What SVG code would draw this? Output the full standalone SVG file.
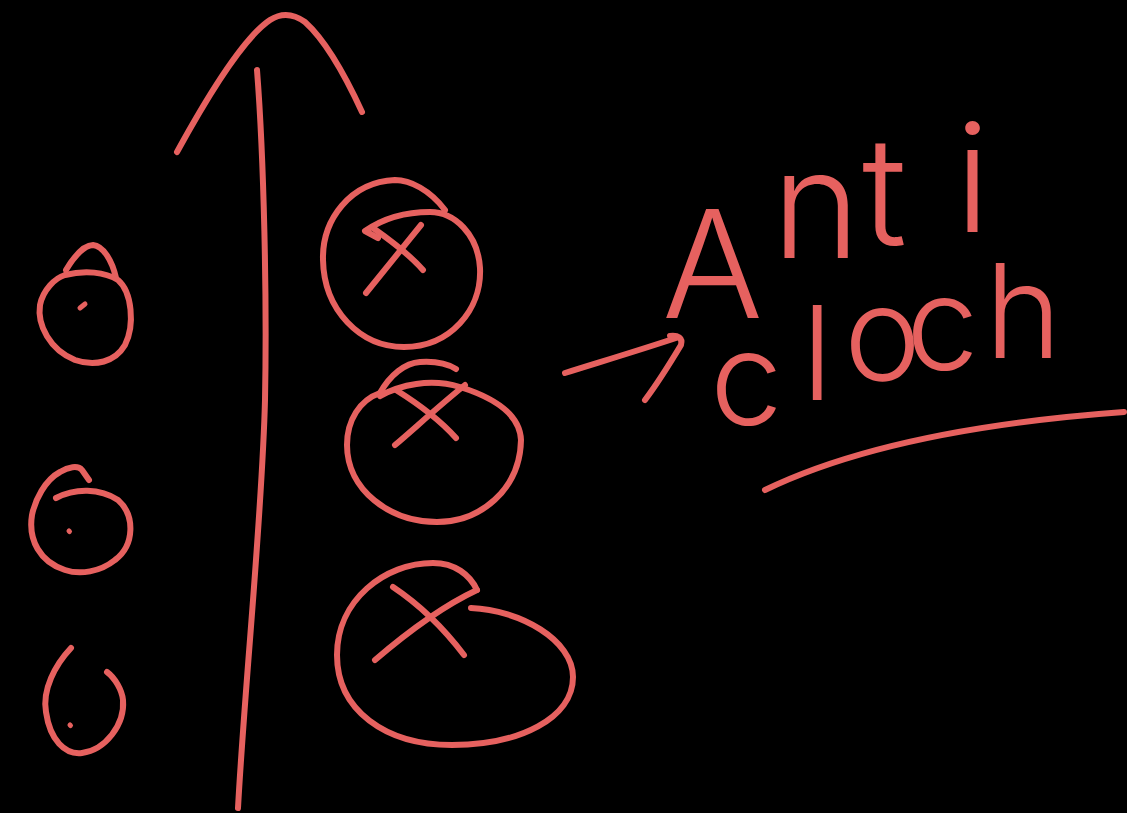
<svg xmlns="http://www.w3.org/2000/svg" width="1127" height="813" viewBox="0 0 1127 813">
<style>
.s{fill:none;stroke:#E6615F;stroke-width:6;stroke-linecap:round;stroke-linejoin:round}
.d{fill:none;stroke:#E6615F;stroke-width:5;stroke-linecap:round}
.hw{fill:#E6615F;font-family:Inter,"Liberation Sans",sans-serif;font-weight:300}
</style>
<rect x="0" y="0" width="1127" height="813" fill="#000"/>
<g id="big-arrow">
<path class="s" d="M257,70 C264,160 267,300 265,400 C262,520 245,680 238,808"/>
<path class="s" d="M177,152 C200,110 240,40 270,20 Q287,9 305,22 C325,40 345,75 362,112"/>
</g>
<g id="dot-1">
<path class="s" d="M66,270 C75,255 85,245 93,245 C103,246 112,260 116,278"/>
<path class="s" d="M65,275 C85,270 105,272 118,280 C132,292 135,325 125,345 C115,362 95,367 75,360 C50,350 37,325 40,305 C43,290 55,278 65,275"/>
<path class="d" d="M80,308 L85,304"/>
</g>
<g id="dot-2">
<path class="s" d="M56,498 C75,488 100,488 118,500 C135,515 135,545 115,560 C100,572 80,575 65,570 C40,562 28,540 32,515 C35,500 45,480 60,472 C68,467 78,465 82,470 L89,480"/>
<path class="d" d="M69,531 L69.5,531.5"/>
</g>
<g id="dot-3">
<path class="s" d="M71,648 C55,665 42,690 46,712 C50,740 65,755 82,753 C105,750 125,725 123,700 C122,690 115,678 107,672"/>
<path class="d" d="M70,725 L70.5,725.5"/>
</g>
<g id="cross-1">
<path class="s" d="M445,210 C430,190 410,180 395,180 C350,182 322,220 323,260 C324,310 360,347 404,347 C450,347 482,310 480,268 C478,235 455,212 430,212 C400,212 378,222 365,231 L378,238"/>
<path class="s" d="M366,293 L421,225"/>
<path class="s" d="M373,228 C390,240 410,255 423,270"/>
</g>
<g id="cross-2">
<path class="s" d="M380,393 C390,375 405,363 420,362 C435,361 448,364 456,369"/>
<path class="s" d="M380,396 C400,385 430,378 460,387 C495,398 520,415 521,440 C520,490 480,522 437,522 C390,522 347,490 347,445 C347,420 360,400 380,393"/>
<path class="s" d="M395,445 C415,428 440,405 465,385"/>
<path class="s" d="M396,390 C420,405 440,420 456,438"/>
</g>
<g id="cross-3">
<path class="s" d="M471,608 C520,610 573,640 573,677 C573,718 520,745 452,745 C385,745 337,710 337,655 C337,600 385,563 433,563 C455,563 470,575 477,590"/>
<path class="s" d="M375,660 C410,630 445,605 477,590"/>
<path class="s" d="M393,587 C420,605 445,630 464,655"/>
</g>
<g id="connectors">
<path class="s" d="M565,373 C600,362 640,350 676,338" stroke-width="7"/>
<path class="s" d="M645,400 C660,380 672,360 681,345 C683,338 678,335 670,336"/>
</g>
<g id="label">
<text class="hw" font-size="150" x="662 772 862 955" y="318 258 245 232">Anti</text>
<text class="hw" font-size="130" x="710 802 844 906 985" y="425 400 380 370 358">cloch</text>
<path class="s" d="M765,490 Q891,429 1124,412"/>
</g>
</svg>
